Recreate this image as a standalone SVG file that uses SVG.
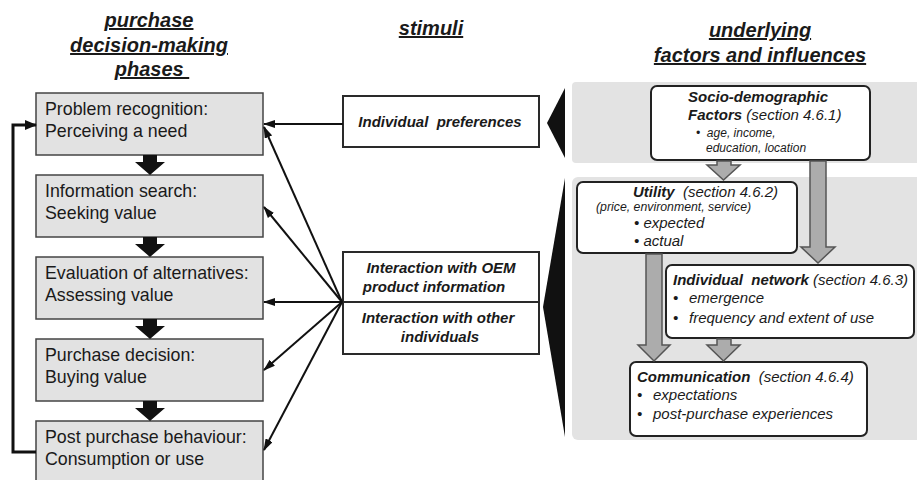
<svg xmlns="http://www.w3.org/2000/svg" width="917" height="480" viewBox="0 0 917 480">
<style>
  text { font-family: "Liberation Sans", Arial, sans-serif; fill: #1a1a1a; }
  .head { font-size: 20px; font-weight: bold; font-style: italic; text-decoration: underline; text-anchor: middle; }
  .phase { fill: #e2e2e2; stroke: #444; stroke-width: 1.5; }
  .pt { font-size: 17.8px; }
  .stim { fill: #fff; stroke: #2a2a2a; stroke-width: 2; }
  .st { font-size: 15px; font-weight: bold; font-style: italic; text-anchor: middle; }
  .panel { fill: #e3e3e3; }
  .fbox { fill: #fff; stroke: #222; stroke-width: 2; }
  .bi { font-weight: bold; font-style: italic; }
  .it { font-style: italic; }
  .garrow { fill: #acacac; stroke: #555; stroke-width: 1.5; }
  .blk { fill: #111; }
  .conn { stroke: #111; stroke-width: 2; fill: none; marker-end: url(#ah); }
</style>
<defs>
  <marker id="ah" markerUnits="userSpaceOnUse" markerWidth="12" markerHeight="8" refX="11" refY="4" orient="auto">
    <path d="M0,0 L12,4 L0,8 z" fill="#111"/>
  </marker>
  <marker id="ahb" markerUnits="userSpaceOnUse" markerWidth="12" markerHeight="10" refX="11" refY="5" orient="auto">
    <path d="M0,0 L12,5 L0,10 z" fill="#111"/>
  </marker>
</defs>

<!-- headings -->
<g id="headings">
  <text class="head" x="149" y="27">purchase</text>
  <text class="head" x="149" y="52">decision-making</text>
  <text class="head" x="152" y="76">phases&#160;</text>
  <text class="head" x="431" y="35">stimuli</text>
  <text class="head" x="760" y="37">underlying</text>
  <text class="head" x="760" y="62">factors and influences</text>
</g>

<!-- background panels -->
<g id="panels">
  <rect class="panel" x="572" y="82" width="350" height="81" rx="4"/>
  <rect class="panel" x="572" y="177" width="350" height="263" rx="6"/>
  <polygon class="blk" points="547,123 565,88 565,158"/>
  <polygon class="blk" points="543,307 565,178 565,437"/>
</g>

<!-- phases -->
<g id="phase1">
  <rect class="phase" x="36" y="93" width="227" height="62"/>
  <text class="pt" x="45" y="115">Problem recognition:</text>
  <text class="pt" x="45" y="137">Perceiving a need</text>
</g>
<g id="phase2">
  <rect class="phase" x="36" y="175" width="227" height="62"/>
  <text class="pt" x="45" y="197">Information search:</text>
  <text class="pt" x="45" y="219">Seeking value</text>
</g>
<g id="phase3">
  <rect class="phase" x="36" y="257" width="227" height="62"/>
  <text class="pt" x="45" y="279">Evaluation of alternatives:</text>
  <text class="pt" x="45" y="301">Assessing value</text>
</g>
<g id="phase4">
  <rect class="phase" x="36" y="339" width="227" height="62"/>
  <text class="pt" x="45" y="361">Purchase decision:</text>
  <text class="pt" x="45" y="383">Buying value</text>
</g>
<g id="phase5">
  <rect class="phase" x="36" y="421" width="227" height="62"/>
  <text class="pt" x="45" y="443">Post purchase behaviour:</text>
  <text class="pt" x="45" y="465">Consumption or use</text>
</g>

<!-- stimuli -->
<g id="stim1">
  <rect class="stim" x="343" y="96" width="196" height="51"/>
  <text class="st" x="440" y="127" xml:space="preserve">Individual  preferences</text>
</g>
<g id="stim2">
  <rect class="stim" x="343" y="252" width="196" height="50"/>
  <text class="st" x="441" y="273">Interaction with OEM</text>
  <text class="st" x="434" y="292">product information</text>
</g>
<g id="stim3">
  <rect class="stim" x="343" y="302" width="196" height="52"/>
  <text class="st" x="438" y="323">Interaction with other</text>
  <text class="st" x="440" y="342">individuals</text>
</g>

<!-- factor boxes -->
<g id="socio">
  <rect class="fbox" x="651" y="86" width="219" height="74" rx="6"/>
  <text x="688" y="102" font-size="15" class="bi">Socio-demographic</text>
  <text x="688" y="120" font-size="15" xml:space="preserve"><tspan class="bi">Factors</tspan><tspan class="it"> (section 4.6.1)</tspan></text>
  <text x="696" y="137" font-size="12" class="it" xml:space="preserve">•  age, income,</text>
  <text x="706" y="152" font-size="12" class="it">education, location</text>
</g>
<g id="utility">
  <rect class="fbox" x="577" y="182" width="220" height="71" rx="6"/>
  <text x="633" y="197" font-size="15" xml:space="preserve"><tspan class="bi">Utility</tspan><tspan class="it">  (section 4.6.2)</tspan></text>
  <text x="596" y="211" font-size="12.3" class="it">(price, environment, service)</text>
  <text x="634" y="228" font-size="15" class="it">• expected</text>
  <text x="634" y="246" font-size="15" class="it">• actual</text>
</g>
<g id="network">
  <rect class="fbox" x="666" y="265" width="248" height="73" rx="6"/>
  <text x="673" y="285" font-size="15" xml:space="preserve"><tspan class="bi">Individual  network</tspan><tspan class="it"> (section 4.6.3)</tspan></text>
  <text x="673" y="303" font-size="15" class="it">•</text>
  <text x="689" y="303" font-size="15" class="it">emergence</text>
  <text x="673" y="323" font-size="15" class="it">•</text>
  <text x="689" y="323" font-size="15" class="it">frequency and extent of use</text>
</g>
<g id="communication">
  <rect class="fbox" x="630" y="362" width="237" height="74" rx="6"/>
  <text x="637" y="382" font-size="15" xml:space="preserve"><tspan class="bi">Communication</tspan><tspan class="it">  (section 4.6.4)</tspan></text>
  <text x="637" y="400" font-size="15" class="it">•</text>
  <text x="653" y="400" font-size="15" class="it">expectations</text>
  <text x="637" y="419" font-size="15" class="it">•</text>
  <text x="653" y="419" font-size="15" class="it">post-purchase experiences</text>
</g>

<!-- connectors -->
<g id="connectors">
  <polygon class="blk" points="143,155 157,155 157,162 165,162 150,175 135,162 143,162"/>
  <polygon class="blk" points="143,237 157,237 157,244 165,244 150,257 135,244 143,244"/>
  <polygon class="blk" points="143,319 157,319 157,326 165,326 150,339 135,326 143,326"/>
  <polygon class="blk" points="143,401 157,401 157,408 165,408 150,421 135,408 143,408"/>
  <polyline points="36,452 13,452 13,125 36,125" stroke="#111" stroke-width="3" fill="none" marker-end="url(#ahb)"/>
  <line class="conn" x1="343" y1="124" x2="264" y2="124"/>
  <line class="conn" x1="342" y1="302" x2="264" y2="127"/>
  <line class="conn" x1="342" y1="302" x2="264" y2="207"/>
  <line class="conn" x1="342" y1="302" x2="264" y2="302"/>
  <line class="conn" x1="342" y1="302" x2="264" y2="370"/>
  <line class="conn" x1="342" y1="302" x2="264" y2="450"/>
  <polygon class="garrow" points="717,161 731,161 731,165 740,165 723.5,180 707,165 717,165"/>
  <polygon class="garrow" points="810,161 826,161 826,247 835,247 818,263 801,247 810,247"/>
  <polygon class="garrow" points="646,254 662,254 662,345 670,345 654,361 638,345 646,345"/>
  <polygon class="garrow" points="717,339 731,339 731,345 740,345 723.5,361 707,345 717,345"/>
</g>
</svg>
